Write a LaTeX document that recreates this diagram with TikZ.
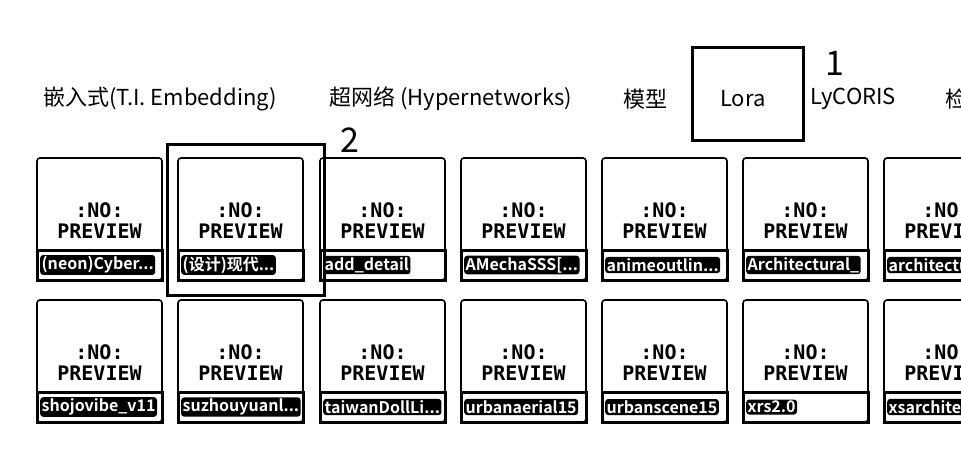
\documentclass[tikz,border=0pt]{standalone}
\usepackage{fontspec}
\setmainfont{Noto Sans CJK SC}[BoldFont={Noto Sans CJK SC Bold}]
\newfontfamily\pixelfont{DejaVu Sans Mono}
\tikzset{
  tab/.style={anchor=west, inner sep=0pt, font=\fontsize{22}{22}\selectfont},
  cardbox/.style={draw, line width=1.6pt, rounded corners=3pt, inner sep=0pt, outer sep=0pt},
  labelbox/.style={draw, line width=3pt, inner sep=0pt, outer sep=0pt},
  labeltext/.style={anchor=west, fill=black, text=white, rounded corners=3pt, inner xsep=1.5pt, inner ysep=1.5pt, font=\fontsize{16}{16}\selectfont\bfseries},
  noprev/.style={font=\fontsize{20}{20}\selectfont\pixelfont\bfseries, inner sep=0pt},
  hlbox/.style={draw, line width=3pt, inner sep=0pt},
  num/.style={font=\fontsize{34}{34}\selectfont, inner sep=0pt},
}
\newcommand\modelcard[4]{%
  \node[cardbox, anchor=north west, minimum width=125pt, minimum height=122pt] (#1) at (#2,#3) {};
  \node[labelbox, anchor=north west, minimum width=125pt, minimum height=30pt] (#1l) at (#2,#3+92) {};
  \node[labeltext] (#1t) at (#2+3,#3+107) {#4};
  \node[noprev] (#1n) at (#2+62.5,#3+52) {:NO:};
  \node[noprev] (#1p) at (#2+62.5,#3+73) {PREVIEW};
}
\begin{document}
\begin{tikzpicture}[x=1pt,y=-1pt]
\clip (0,0) rectangle (961,459);
\fill[white] (0,0) rectangle (961,459);
% tabs
\node[tab] (tab1) at (43,99) {嵌入式(T.I. Embedding)};
\node[tab] (tab2) at (329,99) {超网络 (Hypernetworks)};
\node[tab] (tab3) at (623,99) {模型};
\node[tab] (tab4) at (720,99) {Lora};
\node[tab] (tab5) at (810,99) {LyCORIS};
\node[tab] (tab6) at (945,99) {检};
\node[hlbox, minimum width=111pt, minimum height=93pt] (h1) at (747.5,93.5) {};
\node[num] (n1) at (835,63) {1};
\node[hlbox, minimum width=157pt, minimum height=151pt, anchor=north west] (h2) at (166,143) {};
\node[num] (n2) at (350,140) {2};
% row 1
\modelcard{a1}{37}{158}{(neon)Cyber...}
\modelcard{a2}{178}{158}{(设计)现代...}
\modelcard{a3}{320}{158}{add\_detail}
\modelcard{a4}{461}{158}{AMechaSSS[...}
\modelcard{a5}{602}{158}{animeoutlin...}
\modelcard{a6}{743}{158}{Architectural\_}
\modelcard{a7}{884}{158}{architectu}
% row 2
\modelcard{b1}{37}{300}{shojovibe\_v11}
\modelcard{b2}{178}{300}{suzhouyuanl...}
\modelcard{b3}{320}{300}{taiwanDollLi...}
\modelcard{b4}{461}{300}{urbanaerial15}
\modelcard{b5}{602}{300}{urbanscene15}
\modelcard{b6}{743}{300}{xrs2.0}
\modelcard{b7}{884}{300}{xsarchitec}
\end{tikzpicture}
\end{document}
